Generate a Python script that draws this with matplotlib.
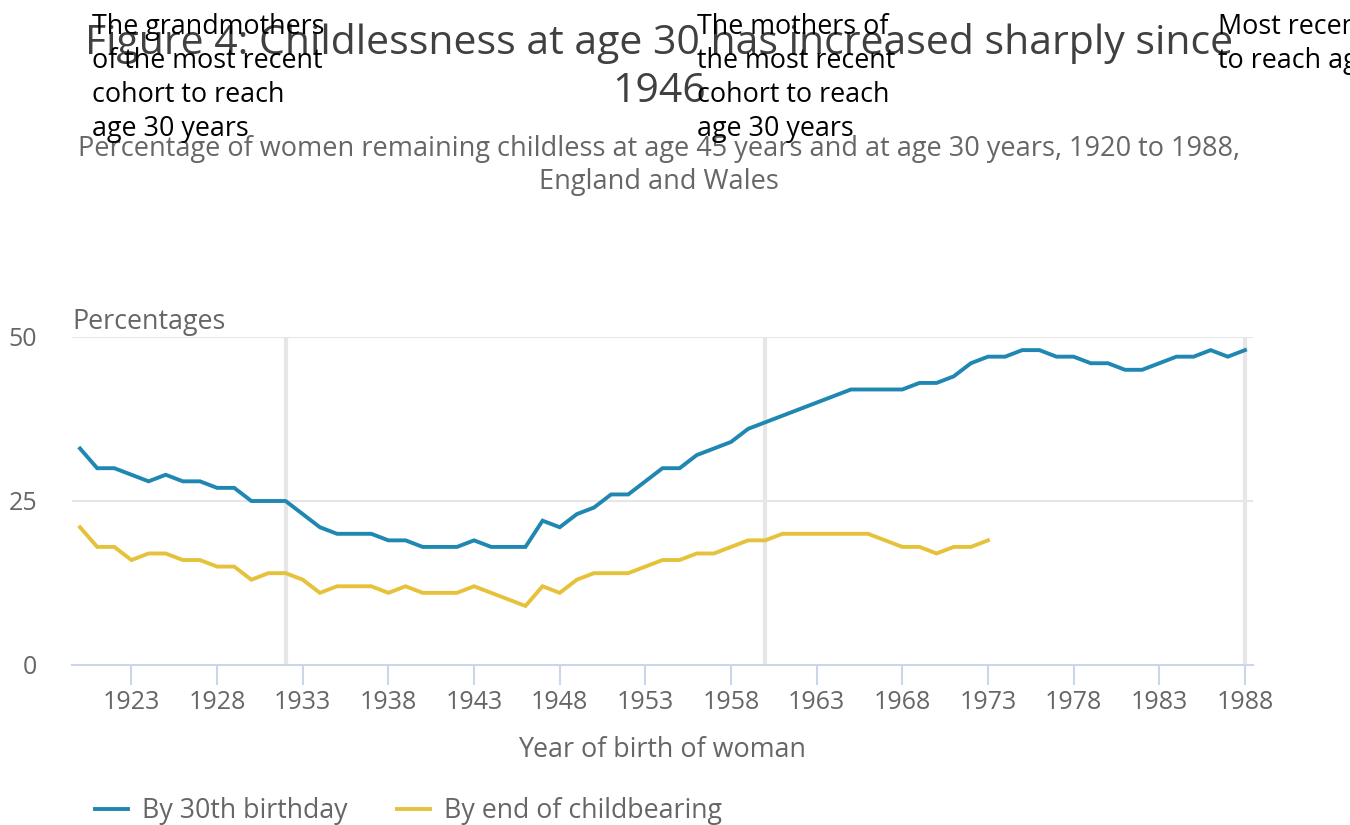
import matplotlib
matplotlib.use("Agg")
import matplotlib.pyplot as plt
import numpy as np

plt.rcParams['font.family'] = ['Open Sans', 'DejaVu Sans']

years_30 = list(range(1920, 1989))
by_30th_birthday = [33, 30, 30, 29, 28, 29, 28, 28, 27, 27,
                    25, 25, 25, 23, 21, 20, 20, 20, 19, 19,
                    18, 18, 18, 19, 18, 18, 18, 22, 21, 23,
                    24, 26, 26, 28, 30, 30, 32, 33, 34, 36,
                    37, 38, 39, 40, 41, 42, 42, 42, 42, 43,
                    43, 44, 46, 47, 47, 48, 48, 47, 47, 46,
                    46, 45, 45, 46, 47, 47, 48, 47, 48]
years_45 = list(range(1920, 1974))
by_end_childbearing = [21, 18, 18, 16, 17, 17, 16, 16, 15, 15,
                       13, 14, 14, 13, 11, 12, 12, 12, 11, 12,
                       11, 11, 11, 12, 11, 10, 9, 12, 11, 13,
                       14, 14, 14, 15, 16, 16, 17, 17, 18, 19,
                       19, 20, 20, 20, 20, 20, 20, 19, 18, 18,
                       17, 18, 18, 19]
marker_years = [1932, 1960, 1988]
x_ticks = list(range(1923, 1989, 5))
y_ticks = [0, 25, 50]

title = "Figure 4: Childlessness at age 30 has increased sharply since\n1946"
subtitle = ("Percentage of women remaining childless at age 45 years and at age 30 years, 1920 to 1988,\n"
            "England and Wales")
annotations = ["The grandmothers\nof the most recent\ncohort to reach\nage 30 years",
               "The mothers of\nthe most recent\ncohort to reach\nage 30 years",
               "Most recent cohort\nto reach age 30 years"]

BLUE = "#1f87b1"
YELLOW = "#e6c23a"
GRID = "#e6e6e6"
AXIS = "#ccd6eb"
GREY = "#666666"

W, H = 1350, 825
fig = plt.figure(figsize=(13.5, 8.25), dpi=100)
ax = fig.add_axes([72 / W, 1 - 665 / H, (1253 - 72) / W, (665 - 337) / H])

for y in y_ticks[1:]:
    ax.axhline(y, color=GRID, lw=1.5, zorder=0)
for xm in marker_years:
    ax.axvline(xm, color=GRID, lw=3, zorder=1)

ax.plot(years_30, by_30th_birthday, color=BLUE, lw=2.8, label="By 30th birthday", zorder=3,
        solid_joinstyle='miter')
ax.plot(years_45, by_end_childbearing, color=YELLOW, lw=2.8, label="By end of childbearing", zorder=3,
        solid_joinstyle='miter')

ax.set_xlim(1919.53, 1988.47)
ax.set_ylim(0, 50)
for s in ['top', 'right', 'left']:
    ax.spines[s].set_visible(False)
ax.spines['bottom'].set_color(AXIS)
ax.spines['bottom'].set_linewidth(1.5)
ax.spines['bottom'].set_zorder(2)

ax.set_xticks(x_ticks)
ax.set_xticklabels([str(t) for t in x_ticks])
ax.set_yticks(y_ticks)
ax.tick_params(axis='x', colors=AXIS, length=14.5, width=1.5, labelcolor=GREY, labelsize=18, pad=3.5)
ax.tick_params(axis='y', length=0, labelcolor=GREY, labelsize=18, pad=25)
ax.set_xlabel("Year of birth of woman", color=GREY, fontsize=19.4, labelpad=15)

fig.text(72 / W, 1 - 322 / H, "Percentages", color=GREY, fontsize=19.4, ha='left', va='center')

fig.text(0.488, 1 - 23 / H, title, ha='center', va='top', fontsize=29.5, color="#404040", linespacing=1.23)
fig.text(0.488, 1 - 135 / H, subtitle, ha='center', va='top', fontsize=19.5, color=GREY, linespacing=1.25)

ann_x = [92, 697, 1218]
for xa, txt in zip(ann_x, annotations):
    fig.text(xa / W, 1 - 13 / H, txt, ha='left', va='top', fontsize=19.4, color='black',
             linespacing=1.28, zorder=5)

handles, labels = ax.get_legend_handles_labels()
fig.legend(handles, labels, loc='center left', bbox_to_anchor=(84 / W, 1 - 811 / H), ncol=2,
           frameon=False, fontsize=19.3, handlelength=1.23, handletextpad=0.52, columnspacing=1.85,
           labelcolor=GREY, borderaxespad=0)

fig.savefig("out.png", dpi=100)
